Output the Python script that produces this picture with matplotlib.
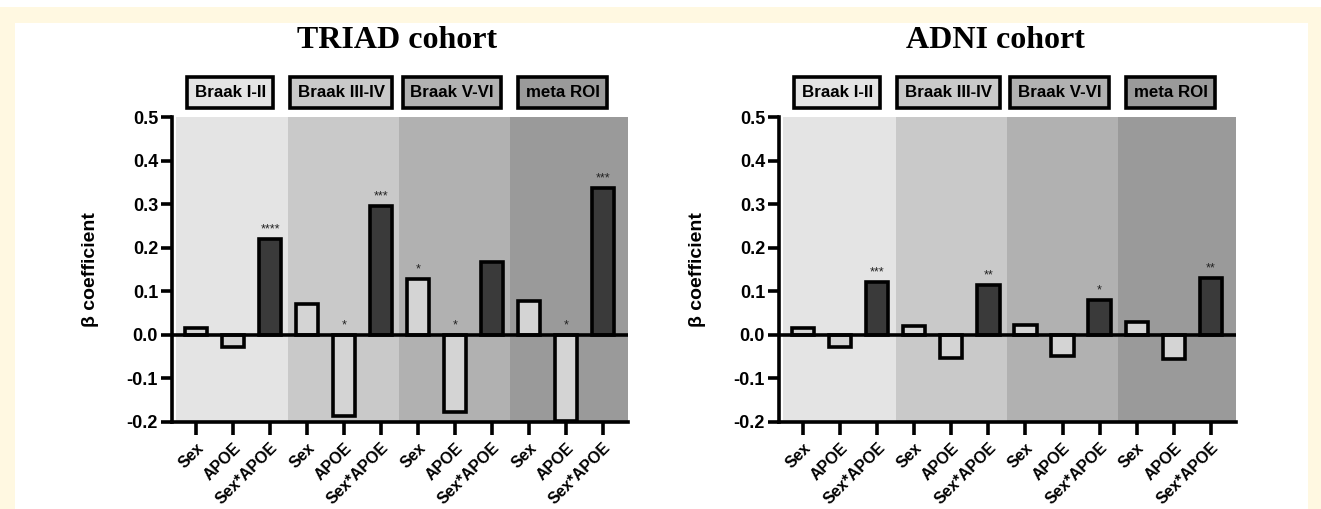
import matplotlib
matplotlib.use("Agg")
import matplotlib.pyplot as plt
from matplotlib.patches import Rectangle
import matplotlib.transforms as mtransforms
import numpy as np

# ---- data ----
categories = ['Sex', 'APOE', 'Sex*APOE']
regions = ['Braak I-II', 'Braak III-IV', 'Braak V-VI', 'meta ROI']
triad_vals = [0.015, -0.028, 0.220,
              0.071, -0.187, 0.295,
              0.128, -0.177, 0.167,
              0.078, -0.197, 0.338]
triad_sig = ['', '', '****', '', '*', '***', '*', '*', '', '', '*', '***']
adni_vals = [0.015, -0.029, 0.122,
             0.021, -0.053, 0.115,
             0.023, -0.048, 0.080,
             0.030, -0.055, 0.130]
adni_sig = ['', '', '***', '', '', '**', '', '', '*', '', '', '**']
titles = ['TRIAD cohort', 'ADNI cohort']
yticks = [-0.2, -0.1, 0.0, 0.1, 0.2, 0.3, 0.4, 0.5]

# ---- style ----
W, H = 1321, 509
SANS = ['Liberation Sans', 'DejaVu Sans']
band_colors = ['#e4e4e4', '#c9c9c9', '#b1b1b1', '#9a9a9a']
light_fill = '#d4d4d4'
dark_fill = '#3a3a3a'
cream = '#fff8e1'
LW = 2.6

fig = plt.figure(figsize=(W / 100, H / 100), dpi=100)
fig.patch.set_facecolor('white')
# cream frame
fig.patches.append(Rectangle((0, 1 - 23 / H), 1, 16 / H, transform=fig.transFigure,
                             facecolor=cream, edgecolor='none', zorder=-10))
fig.patches.append(Rectangle((0, 0), 15 / W, 1 - 7 / H, transform=fig.transFigure,
                             facecolor=cream, edgecolor='none', zorder=-10))
fig.patches.append(Rectangle((1308 / W, 0), 1 - 1308 / W, 1 - 7 / H, transform=fig.transFigure,
                             facecolor=cream, edgecolor='none', zorder=-10))

panels = [(172, 628, triad_vals, triad_sig, 397), (779, 1236, adni_vals, adni_sig, 995)]
top_px, bot_px = 117, 422

for (lpx, rpx, vals, sigs, tx), title in zip(panels, titles):
    ax = fig.add_axes([lpx / W, 1 - bot_px / H, (rpx - lpx) / W, (bot_px - top_px) / H])
    ax.set_facecolor('none')
    n = len(vals)
    x = np.arange(n)
    ax.set_xlim(-0.65, n - 1 + 0.68)
    ax.set_ylim(-0.2, 0.5)

    # background bands
    for g in range(len(regions)):
        start = 3 * g - 0.5 if g > 0 else -0.55
        end = 3 * g + 2.5 if g < len(regions) - 1 else n - 1 + 0.68
        ax.axvspan(start, end, color=band_colors[g], zorder=0, lw=0)

    fills = [dark_fill if i % 3 == 2 else light_fill for i in range(n)]
    ax.bar(x, vals, width=0.6, color=fills, edgecolor='black', linewidth=LW, zorder=3)
    ax.axhline(0, color='black', lw=LW, zorder=4)

    for xi, v, s in zip(x, vals, sigs):
        if s:
            yy = v + 0.008 if v > 0 else 0.008
            ax.text(xi, yy, s, ha='center', va='bottom', fontsize=9,
                    family=SANS, color='#222222', zorder=5)

    for sp in ['top', 'right']:
        ax.spines[sp].set_visible(False)
    for sp in ['left', 'bottom']:
        ax.spines[sp].set_linewidth(LW)
    ax.spines['left'].set_bounds(-0.2, 0.5)

    ax.set_yticks(yticks)
    ax.set_yticklabels([f'{t:.1f}' for t in yticks], fontsize=13,
                       fontweight='bold', family=SANS)
    ax.set_xticks(x)
    ax.set_xticklabels(categories * len(regions), rotation=45, ha='right',
                       rotation_mode='anchor', fontsize=11.5, fontweight='bold',
                       family=SANS)
    ax.tick_params(axis='y', length=8, width=LW, pad=2)
    ax.tick_params(axis='x', length=9, width=LW, pad=4)

    ax.set_ylabel('β coefficient', fontsize=14, fontweight='bold', family=SANS)
    ax.yaxis.set_label_coords(-73 / (rpx - lpx), 0.5)

    trans = mtransforms.blended_transform_factory(ax.transData, ax.transAxes)
    for g, reg in enumerate(regions):
        ax.text(3 * g + 1 - 0.08, 1.08, reg, transform=trans, ha='center', va='center',
                fontsize=12.2, fontweight='bold', family=SANS, zorder=6,
                bbox=dict(boxstyle='square,pad=0.45', facecolor=band_colors[g],
                          edgecolor='black', linewidth=LW))

    fig.text(tx / W, 1 - 40 / H, title, ha='center', va='center',
             fontsize=23, fontweight='bold', family=['Liberation Serif', 'DejaVu Serif'])

fig.savefig('out.png', dpi=100)
